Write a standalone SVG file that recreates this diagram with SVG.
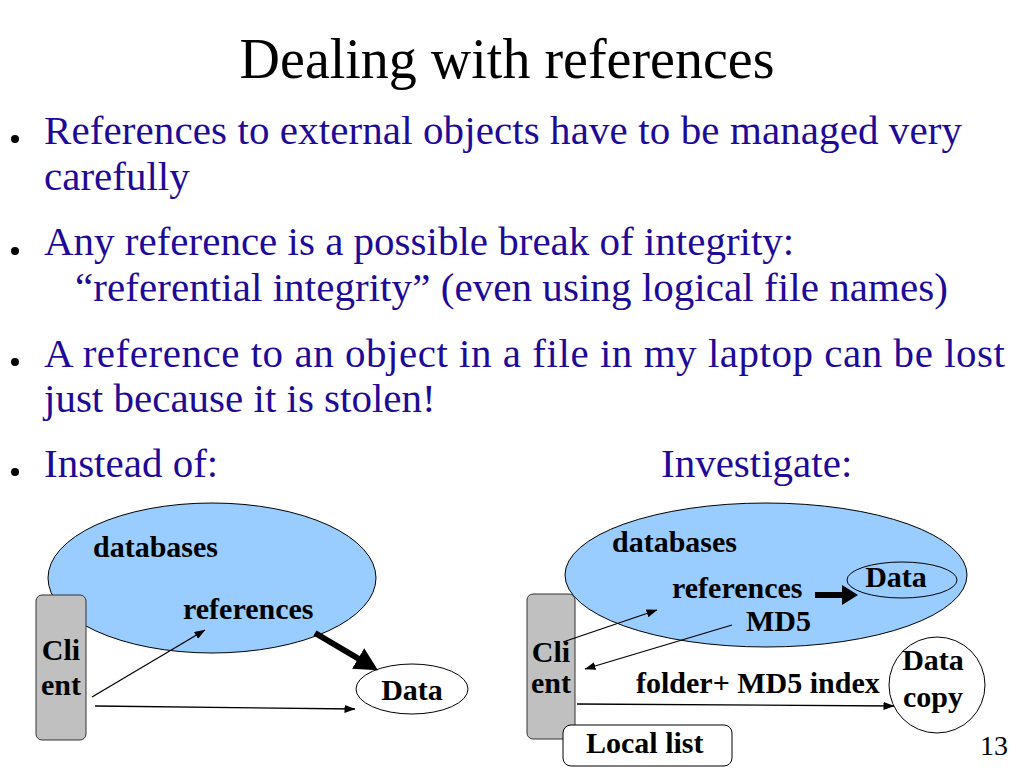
<svg xmlns="http://www.w3.org/2000/svg" width="1023" height="767" viewBox="0 0 1023 767">
<style>
.title{font-family:"Liberation Serif","Times New Roman",serif;font-size:56px;fill:#000}
.body{font-family:"Liberation Serif","Times New Roman",serif;font-size:41px;fill:#1E0A96}
.lbl{font-family:"Liberation Serif","Times New Roman",serif;font-size:30px;font-weight:bold;fill:#000}
.num{font-family:"Liberation Serif","Times New Roman",serif;font-size:28px;fill:#000}
.db{fill:#99CCFF;stroke:#000;stroke-width:1}
.client{fill:#C0C0C0;stroke:#333;stroke-width:1}
.white{fill:#fff;stroke:#000;stroke-width:1}
.thin{stroke:#000;stroke-width:1.3;fill:none}
.thick{stroke:#000;stroke-width:6;fill:none}
</style>
<defs>
<marker id="ah" markerUnits="userSpaceOnUse" markerWidth="11" markerHeight="8" viewBox="0 0 11 8" refX="10.5" refY="4" orient="auto"><path d="M0,0 L11,4 L0,8 z" fill="#000"/></marker>
<marker id="big1" markerUnits="userSpaceOnUse" markerWidth="23" markerHeight="24" viewBox="0 0 23 24" refX="1" refY="12" orient="auto"><path d="M0,0 L23,12 L0,24 z" fill="#000"/></marker>
<marker id="big2" markerUnits="userSpaceOnUse" markerWidth="16" markerHeight="20" viewBox="0 0 16 20" refX="1" refY="10" orient="auto"><path d="M0,0 L16,10 L0,20 z" fill="#000"/></marker>
</defs>

<text class="title" x="507" y="78" text-anchor="middle">Dealing with references</text>

<g id="bullets">
<circle cx="15" cy="139" r="4" fill="#000"/>
<text class="body" x="44" y="144" textLength="918" lengthAdjust="spacing">References to external objects have to be managed very</text>
<text class="body" x="44" y="190">carefully</text>
<circle cx="15" cy="251" r="4" fill="#000"/>
<text class="body" x="44" y="255">Any reference is a possible break of integrity:</text>
<text class="body" x="75" y="301" textLength="873" lengthAdjust="spacing">“referential integrity” (even using logical file names)</text>
<circle cx="15" cy="362" r="4" fill="#000"/>
<text class="body" x="44" y="367" textLength="961" lengthAdjust="spacing">A reference to an object in a file in my laptop can be lost</text>
<text class="body" x="44" y="412">just because it is stolen!</text>
<circle cx="15" cy="472" r="4" fill="#000"/>
<text class="body" x="44" y="477">Instead of:</text>
<text class="body" x="661" y="477">Investigate:</text>
</g>

<!-- Left diagram -->
<g id="left-databases">
<ellipse class="db" cx="212" cy="578" rx="164" ry="75"/>
<text class="lbl" x="93" y="557">databases</text>
<text class="lbl" x="183" y="619">references</text>
</g>
<g id="left-client">
<rect class="client" x="36" y="595" width="50" height="145" rx="6"/>
<text class="lbl" x="61" y="660" text-anchor="middle">Cli</text>
<text class="lbl" x="61" y="695" text-anchor="middle">ent</text>
</g>
<g id="left-data">
<ellipse class="white" cx="412" cy="689" rx="56" ry="25"/>
<text class="lbl" x="412" y="700" text-anchor="middle">Data</text>
</g>

<!-- Right diagram -->
<g id="right-databases">
<ellipse class="db" cx="766" cy="575" rx="201" ry="72"/>
<text class="lbl" x="612" y="552">databases</text>
<text class="lbl" x="672" y="598">references</text>
<text class="lbl" x="746" y="631">MD5</text>
</g>
<g id="right-data">
<ellipse class="db" cx="902" cy="580" rx="55" ry="18"/>
<text class="lbl" x="896" y="587" text-anchor="middle">Data</text>
</g>
<g id="right-client">
<rect class="client" x="527" y="594" width="48" height="145" rx="6"/>
<text class="lbl" x="551" y="662" text-anchor="middle">Cli</text>
<text class="lbl" x="551" y="693" text-anchor="middle">ent</text>
</g>
<g id="local-list">
<rect class="white" x="563" y="725" width="169" height="41" rx="8"/>
<text class="lbl" x="586" y="753">Local list</text>
</g>
<g id="data-copy">
<circle class="white" cx="937" cy="685" r="48"/>
<text class="lbl" x="933" y="670" text-anchor="middle">Data</text>
<text class="lbl" x="933" y="707" text-anchor="middle">copy</text>
</g>
<text class="lbl" x="636" y="693">folder+ MD5 index</text>
<text class="num" x="980" y="755">13</text>

<g id="connectors">
<line class="thin" x1="92" y1="697" x2="205" y2="630" marker-end="url(#ah)"/>
<line class="thin" x1="95" y1="706" x2="355" y2="709" marker-end="url(#ah)"/>
<line class="thick" x1="315" y1="633" x2="359" y2="659" marker-end="url(#big1)"/>
<line class="thick" x1="815" y1="595" x2="843" y2="595" marker-end="url(#big2)"/>
<line class="thin" x1="563" y1="642" x2="657" y2="610" marker-end="url(#ah)"/>
<line class="thin" x1="732" y1="625" x2="585" y2="669" marker-end="url(#ah)"/>
<line class="thin" x1="577" y1="704" x2="894" y2="706" marker-end="url(#ah)"/>
</g>
</svg>
